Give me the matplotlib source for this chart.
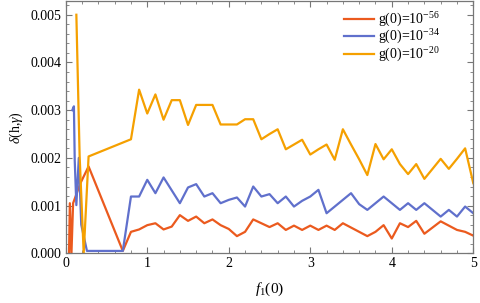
import numpy as np
import matplotlib.pyplot as plt
from matplotlib.ticker import MultipleLocator

# g(0)=10^-56
x_red = [0.04, 0.05, 0.07, 0.09, 0.18, 0.28, 0.70, 0.8, 0.9, 1.0, 1.1, 1.2, 1.3, 1.4, 1.5,
         1.6, 1.7, 1.8, 1.9, 2.0, 2.1, 2.2, 2.3, 2.4, 2.5, 2.6, 2.7, 2.8, 2.9, 3.0, 3.1, 3.2,
         3.3, 3.4, 3.5, 3.6, 3.7, 3.8, 3.9, 4.0, 4.1, 4.2, 4.3, 4.4, 4.5, 4.6, 4.7, 4.8, 4.9, 5.0]
y_red = [0.0, 0.00105, 0.0, 0.00105, 0.00147, 0.00182, 0.00005, 0.00045, 0.0005, 0.00059,
         0.00063, 0.0005, 0.00056, 0.0008, 0.00068, 0.00077, 0.00063, 0.00071, 0.00059,
         0.00051, 0.00036, 0.00045, 0.00071, 0.00063, 0.00055, 0.00063, 0.00049, 0.00058,
         0.00049, 0.00058, 0.00049, 0.00058, 0.00049, 0.00063, 0.00054, 0.00045, 0.00036,
         0.00045, 0.00059, 0.00031, 0.00063, 0.00055, 0.00068, 0.00041, 0.00054, 0.00067,
         0.00058, 0.00049, 0.00045, 0.00037]

# g(0)=10^-34
x_blue = [0.08, 0.10, 0.11, 0.13, 0.16, 0.19, 0.26, 0.70, 0.8, 0.9, 1.0, 1.1, 1.2, 1.3, 1.4,
          1.5, 1.6, 1.7, 1.8, 1.9, 2.0, 2.1, 2.2, 2.3, 2.4, 2.5, 2.6, 2.7, 2.8, 2.9, 3.0, 3.1,
          3.2, 3.3, 3.4, 3.5, 3.6, 3.7, 3.8, 3.9, 4.0, 4.1, 4.2, 4.3, 4.4, 4.5, 4.6, 4.7, 4.8,
          4.9, 5.0]
y_blue = [0.0030, 0.00308, 0.00195, 0.00101, 0.0020, 0.0006, 0.00005, 0.00005, 0.00119,
          0.00119, 0.00154, 0.00126, 0.00159, 0.00132, 0.00105, 0.00138, 0.00145, 0.00119,
          0.00126, 0.00105, 0.00112, 0.00117, 0.00098, 0.0014, 0.00119, 0.00124, 0.00105,
          0.00119, 0.00098, 0.0011, 0.00119, 0.00133, 0.00084, 0.00098, 0.00112, 0.00126,
          0.00103, 0.00091, 0.00105, 0.00119, 0.00105, 0.00091, 0.00105, 0.00091, 0.00105,
          0.00091, 0.00077, 0.00091, 0.00077, 0.00098, 0.00084]

# g(0)=10^-20
x_orange = [0.13, 0.17, 0.22, 0.28, 0.8, 0.9, 1.0, 1.1, 1.2, 1.3, 1.4, 1.5, 1.6, 1.7, 1.8,
            1.9, 2.0, 2.1, 2.2, 2.3, 2.4, 2.5, 2.6, 2.7, 2.8, 2.9, 3.0, 3.1, 3.2, 3.3, 3.4,
            3.5, 3.6, 3.7, 3.8, 3.9, 4.0, 4.1, 4.2, 4.3, 4.4, 4.5, 4.6, 4.7, 4.8, 4.9, 5.0]
y_orange = [0.0050, 0.00205, 0.0, 0.00203, 0.00239, 0.00343, 0.00293, 0.00333, 0.0028,
            0.00321, 0.00321, 0.00269, 0.00311, 0.00311, 0.00311, 0.0027, 0.0027, 0.0027,
            0.00281, 0.00281, 0.00239, 0.0025, 0.0026, 0.00218, 0.00228, 0.00238, 0.00207,
            0.00218, 0.00228, 0.00196, 0.0026, 0.00228, 0.00197, 0.00164, 0.00229, 0.00197,
            0.00218, 0.00187, 0.00166, 0.00187, 0.00156, 0.00177, 0.00198, 0.00177, 0.00198,
            0.0022, 0.00147]

labels = [r'g(0)=10$^{-56}$', r'g(0)=10$^{-34}$', r'g(0)=10$^{-20}$']

plt.rcParams['font.family'] = 'Liberation Serif'
plt.rcParams['mathtext.fontset'] = 'custom'
plt.rcParams['mathtext.rm'] = 'Liberation Serif'
plt.rcParams['mathtext.it'] = 'Liberation Serif:italic'

fig = plt.figure(figsize=(4.8, 3.03), dpi=100)
ax = fig.add_axes([0.137, 0.164, 0.849, 0.833])

ax.plot(x_red, y_red, color='#EB5A1E', lw=1.6, label=labels[0])
ax.plot(x_blue, y_blue, color='#6070CC', lw=1.6, label=labels[1])
ax.plot(x_orange, y_orange, color='#F5A000', lw=1.6, label=labels[2])

ax.set_xlim(0, 5)
ax.set_ylim(0, 0.00529)
ax.xaxis.set_major_locator(MultipleLocator(1))
ax.xaxis.set_minor_locator(MultipleLocator(0.2))
ax.yaxis.set_major_locator(MultipleLocator(0.001))
ax.yaxis.set_minor_locator(MultipleLocator(0.0002))
ax.yaxis.set_major_formatter(plt.FuncFormatter(lambda v, p: f'{v:.3f}'))

for s in ax.spines.values():
    s.set_color('#777777')
    s.set_linewidth(0.9)
ax.tick_params(which='both', direction='in', top=True, right=True, color='#777777',
               labelsize=10, pad=3)
ax.tick_params(which='major', length=4)
ax.tick_params(which='minor', length=2.5)

ax.set_xlabel(r'$f_1(0)$', fontsize=11, labelpad=7)
ax.set_ylabel(r'$\delta$(h,$\gamma$)', fontsize=10, labelpad=4)

ax.legend(loc='upper left', bbox_to_anchor=(0.682, 0.962), frameon=False, fontsize=10,
          handlelength=2.2, handletextpad=0.3, labelspacing=-0.04, borderpad=0,
          borderaxespad=0)

fig.savefig('out.png', dpi=100)
